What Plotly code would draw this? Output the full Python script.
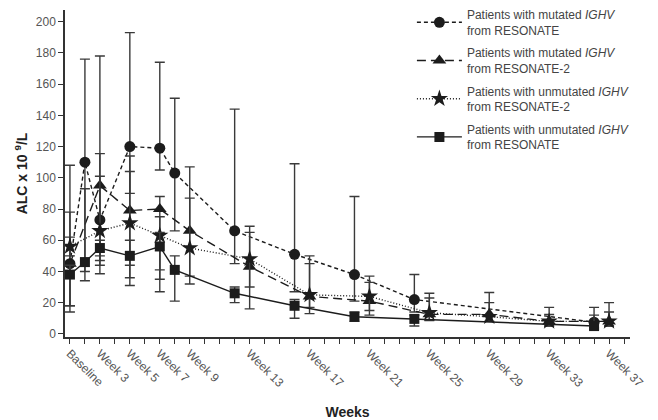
import plotly.graph_objects as go

# RESONATE visits (week index, baseline = 1)
weeks_r = [1, 2, 3, 5, 7, 8, 12, 16, 20, 24, 36]
# RESONATE-2 visits
weeks_r2 = [1, 3, 5, 7, 9, 13, 17, 21, 25, 29, 33, 37]

mut_r = [45, 110, 73, 120, 119, 103, 66, 51, 38, 22, 7.5]
mut_r_hi = [108, 176, 178, 193, 174, 151, 144, 109, 88, 38, 17]
mut_r_lo = [14, 40, 38.5, 90, 105, 66, 45, 27, 21, 14, 4]

mut_r2 = [45, 95, 79, 80, 66, 43, 24, 21, 12.5, 12.5, 8, 8]
mut_r2_hi = [78, 115.5, 114, 88, 107, 65, 45, 33, 23, 26.5, 12.4, 14]
mut_r2_lo = [18, 44, 36, 41, 37, 16, 13, 12, 8.5, 8, 5, 5]

unm_r2 = [56, 66, 71, 63, 55, 48, 25, 24, 13.5, 11, 8, 8]
unm_r2_hi = [62, 101, 104, 75, 87, 69, 50, 37, 26, 20, 17, 20]
unm_r2_lo = [50, 47, 44, 35, 32, 30, 17, 15, 9, 8, 5, 5]

unm_r = [38, 46, 55, 50, 56, 41, 26, 18, 11, 9.6, 5]
unm_r_hi = [44, 93, 60, 60, 65, 50, 30, 22, 14, 12, 12]
unm_r_lo = [18, 34, 50, 31, 27, 21, 20, 10, 8, 5, 3]

tick_weeks = list(range(1, 39))
tick_labels = {1: "Baseline", 3: "Week 3", 5: "Week 5", 7: "Week 7", 9: "Week 9",
               13: "Week 13", 17: "Week 17", 21: "Week 21", 25: "Week 25",
               29: "Week 29", 33: "Week 33", 37: "Week 37"}
y_ticks = [0, 20, 40, 60, 80, 100, 120, 140, 160, 180, 200]

names = [
    "Patients with mutated <i>IGHV</i><br>from RESONATE",
    "Patients with mutated <i>IGHV</i><br>from RESONATE-2",
    "Patients with unmutated <i>IGHV</i><br>from RESONATE-2",
    "Patients with unmutated <i>IGHV</i><br>from RESONATE",
]

MC = "#1c1c1c"
EC = "#3a3a3a"

def trace(x, y, hi, lo, name, symbol, size, dash):
    return go.Scatter(
        x=x, y=y, name=name, mode="lines+markers", legendgroup=name,
        line=dict(color=MC, width=1.4, dash=dash),
        marker=dict(symbol=symbol, size=size, color=MC),
        error_y=dict(type="data", symmetric=False,
                     array=[h - v for h, v in zip(hi, y)],
                     arrayminus=[v - l for l, v in zip(lo, y)],
                     color=EC, thickness=1.4, width=5),
    )

fig = go.Figure()
fig.add_trace(trace(weeks_r, mut_r, mut_r_hi, mut_r_lo, names[0], "circle", 11, "4px,3px"))
fig.add_trace(trace(weeks_r2, mut_r2, mut_r2_hi, mut_r2_lo, names[1], "triangle-up", 12, "9px,5px"))
fig.add_trace(trace(weeks_r2, unm_r2, unm_r2_hi, unm_r2_lo, names[2], "star", 13, "1px,2px"))
fig.add_trace(trace(weeks_r, unm_r, unm_r_hi, unm_r_lo, names[3], "square", 10, "solid"))

fig.update_layout(
    width=658, height=420,
    margin=dict(l=65, r=28, t=10, b=83, autoexpand=False),
    paper_bgcolor="white", plot_bgcolor="white",
    font=dict(family="Liberation Sans, Arial, sans-serif", color="#555555", size=12),
    showlegend=True,
    legend=dict(x=0.614, y=1.03, xanchor="left", yanchor="top",
                font=dict(size=12, color="#444444"),
                itemwidth=45, tracegroupgap=4, bgcolor="rgba(0,0,0,0)"),
    xaxis=dict(
        range=[0.67, 38.4], tickmode="array", tickvals=tick_weeks,
        ticktext=[tick_labels.get(w, "") for w in tick_weeks],
        tickangle=45, ticks="outside", ticklen=5, tickcolor="#333333",
        ticklabelstandoff=-2,
        showline=True, linecolor="#333333", linewidth=1.5,
        showgrid=False, zeroline=False,
        title=dict(text="<b>Weeks</b>", font=dict(size=14, color="#222222"), standoff=20),
    ),
    yaxis=dict(
        range=[-2, 207.5], tickmode="array", tickvals=y_ticks,
        ticks="outside", ticklen=5, tickcolor="#333333",
        showline=True, linecolor="#333333", linewidth=1.5,
        showgrid=False, zeroline=False,
        title=dict(text="<b>ALC x 10 <sup>9</sup>/L</b>", font=dict(size=14, color="#222222"),
                   standoff=5),
    ),
)

fig.write_html("out.html", config={"displayModeBar": False},
               post_script="document.body.style.margin='0px';")
